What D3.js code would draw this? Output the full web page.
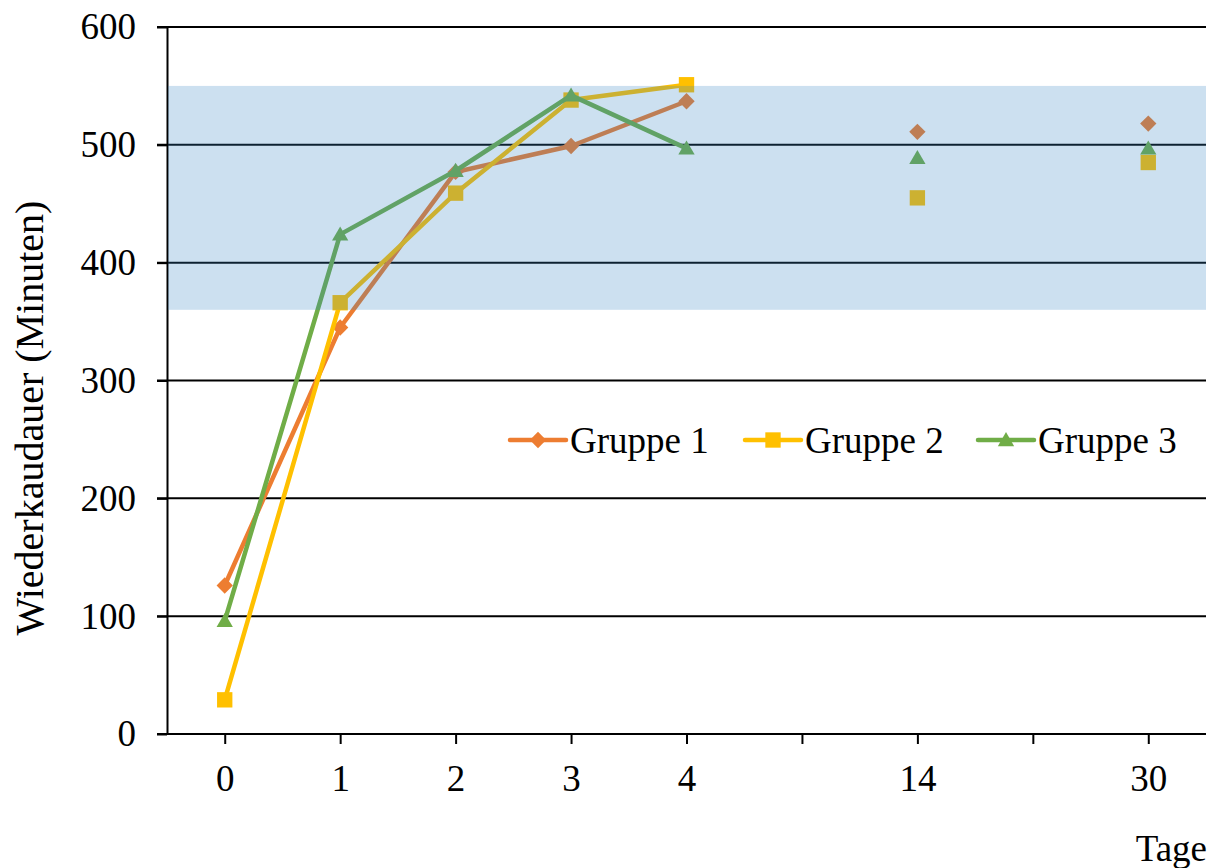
<!DOCTYPE html>
<html><head><meta charset="utf-8">
<script src="https://cdn.jsdelivr.net/npm/d3@7"></script>
<style>body{margin:0;background:#fff}svg{display:block}text{font-family:"Liberation Serif","Times New Roman",serif;fill:#000}</style>
</head><body>
<script>
const categories = ["0","1","2","3","4","","14","","30"];
const yTicks = [0,100,200,300,400,500,600];
const seriesNames = ["Gruppe 1","Gruppe 2","Gruppe 3"];
const gruppe1 = [126,345,477,499,537,null,511,null,518];
const gruppe2 = [29,366,459,538,551,null,455,null,485];
const gruppe3 = [96,424,478,542,497,null,489,null,497];
const bandRange = [360,550];
const colors = ["#ED7D31","#FFC000","#70AD47"];
const symbols = [d3.symbolDiamond2, d3.symbolSquare2, d3.symbolTriangle2];

const W=1208,H=868;
const m={left:167,right:2,top:27,bottom:134};
const svg=d3.select("body").append("svg").attr("width",W).attr("height",H);
const x=d3.scaleBand().domain(d3.range(categories.length)).range([m.left,W-m.right]);
const y=d3.scaleLinear().domain([0,600]).range([H-m.bottom,m.top]);
const cx=i=>x(i)+x.bandwidth()/2;
const fs=37;

// gridlines
svg.append("g").selectAll("line").data(yTicks).join("line")
 .attr("x1",m.left-10).attr("x2",W-m.right).attr("y1",d=>y(d)).attr("y2",d=>y(d))
 .attr("stroke","#000").attr("stroke-width",2);

// y axis
const ya=svg.append("g").attr("transform",`translate(${m.left},0)`)
 .call(d3.axisLeft(y).tickValues(yTicks).tickSize(10).tickSizeOuter(0).tickPadding(21));
ya.select(".domain").attr("stroke","#000").attr("stroke-width",2);
ya.selectAll(".tick line").attr("stroke-width",2);
ya.selectAll("text").attr("font-size",fs).attr("font-family","Liberation Serif");

// x axis
const xa=svg.append("g").attr("transform",`translate(0,${y(0)})`)
 .call(d3.axisBottom(d3.scalePoint().domain(d3.range(categories.length)).range([cx(0),cx(categories.length-1)]))
   .tickSize(10).tickSizeOuter(0).tickPadding(21).tickFormat(i=>categories[i]));
xa.select(".domain").remove();
xa.selectAll(".tick line").attr("stroke-width",2);
xa.selectAll("text").attr("font-size",fs).attr("font-family","Liberation Serif");

// series
const all=[gruppe1,gruppe2,gruppe3];
const line=d3.line().defined(d=>d[1]!=null).x(d=>cx(d[0])).y(d=>y(d[1]));
all.forEach((s,k)=>{
  const pts=s.map((v,i)=>[i,v]);
  svg.append("path").attr("d",line(pts)).attr("fill","none").attr("stroke",colors[k])
   .attr("stroke-width",4.5).attr("stroke-linejoin","round");
  svg.append("g").selectAll("path").data(pts.filter(d=>d[1]!=null)).join("path")
   .attr("transform",d=>`translate(${cx(d[0])},${y(d[1])+(k==2?1.5:0)})`)
   .attr("d",d3.symbol().type(symbols[k]).size(k==0?170:k==1?300:190)).attr("fill",colors[k]);
});

// band overlay
svg.append("rect").attr("x",m.left+1).attr("width",W-m.right-m.left-1)
 .attr("y",y(bandRange[1])).attr("height",y(bandRange[0])-y(bandRange[1]))
 .attr("fill","rgb(51,132,196)").attr("opacity",0.25);

// legend
const lx=[510,745,978];
seriesNames.forEach((n,k)=>{
  const g=svg.append("g").attr("transform",`translate(${lx[k]},440)`);
  g.append("line").attr("x1",0).attr("x2",56).attr("stroke",colors[k]).attr("stroke-width",4.5).attr("stroke-linecap","round");
  g.append("path").attr("transform",`translate(28,${k==2?1.5:0})`).attr("d",d3.symbol().type(symbols[k]).size(k==0?170:k==1?300:190)).attr("fill",colors[k]);
  g.append("text").attr("x",60).attr("dy","0.35em").attr("font-size",fs).text(n);
});

// axis titles
svg.append("text").attr("transform","translate(29,418) rotate(-90)").attr("text-anchor","middle")
 .attr("dy","0.35em").attr("font-size",40).text("Wiederkaudauer (Minuten)");
svg.append("text").attr("x",1207).attr("y",848).attr("text-anchor","end").attr("dy","0.35em")
 .attr("font-size",fs).text("Tage");
</script>
</body></html>
